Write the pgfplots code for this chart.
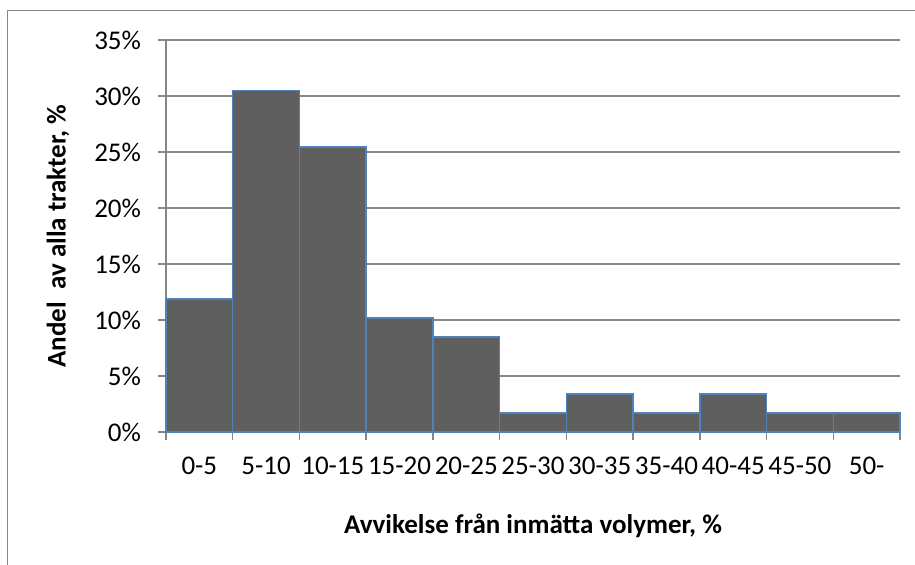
\documentclass[border=0pt]{standalone}
\usepackage{pgfplots}
\pgfplotsset{compat=1.18}
\usepackage{fontspec}
\setmainfont{Carlito}
\definecolor{barfill}{HTML}{5F5F5F}
\definecolor{barblue}{HTML}{4F81BD}
\definecolor{gridgray}{HTML}{868686}
\begin{document}
\begin{tikzpicture}
\useasboundingbox (0,0) rectangle (457.5pt,-282.5pt);
\draw[gridgray, line width=0.75pt] (3.75pt,-283pt) -- (3.75pt,-5.25pt) -- (458pt,-5.25pt);
\begin{axis}[
  at={(83pt,-216pt)}, anchor=south west,
  scale only axis, width=367pt, height=196pt,
  xmin=-0.5, xmax=10.5, ymin=0, ymax=35,
  axis lines*=left,
  axis line style={gridgray, line width=0.75pt},
  tick style={gridgray, line width=0.75pt},
  tick align=outside,
  major tick length=4pt,
  ytick={0,5,...,35},
  yticklabels={0\%,5\%,10\%,15\%,20\%,25\%,30\%,35\%},
  xtick={-0.5,0.5,...,10.5},
  xticklabels={0-5,5-10,10-15,15-20,20-25,25-30,30-35,35-40,40-45,45-50,50-,{}},
  xticklabel style={xshift=16.68pt, yshift=-5pt},
  yticklabel style={xshift=-5pt},
  ticklabel style={font=\fontsize{13.5}{16}\selectfont},
  ymajorgrids, grid style={gridgray, line width=0.75pt},
  xlabel={Avvikelse från inmätta volymer, \%},
  ylabel={Andel\ \ av alla trakter, \%},
  every axis x label/.style={at={(axis description cs:0.5,-0.2577)}, anchor=base,
    font=\fontsize{13.5}{16}\selectfont\bfseries},
  every axis y label/.style={at={(axis description cs:-0.1471,0.5)}, rotate=90, anchor=center,
    font=\fontsize{13.5}{16}\selectfont\bfseries},
  clip=false,
]
\addplot[ybar, bar width=1, fill=barfill, draw=barblue, line width=0.75pt] coordinates {
  (0,11.864) (1,30.508) (2,25.424) (3,10.169) (4,8.475) (5,1.695)
  (6,3.390) (7,1.695) (8,3.390) (9,1.695) (10,1.695)
};
\end{axis}
\end{tikzpicture}
\end{document}
